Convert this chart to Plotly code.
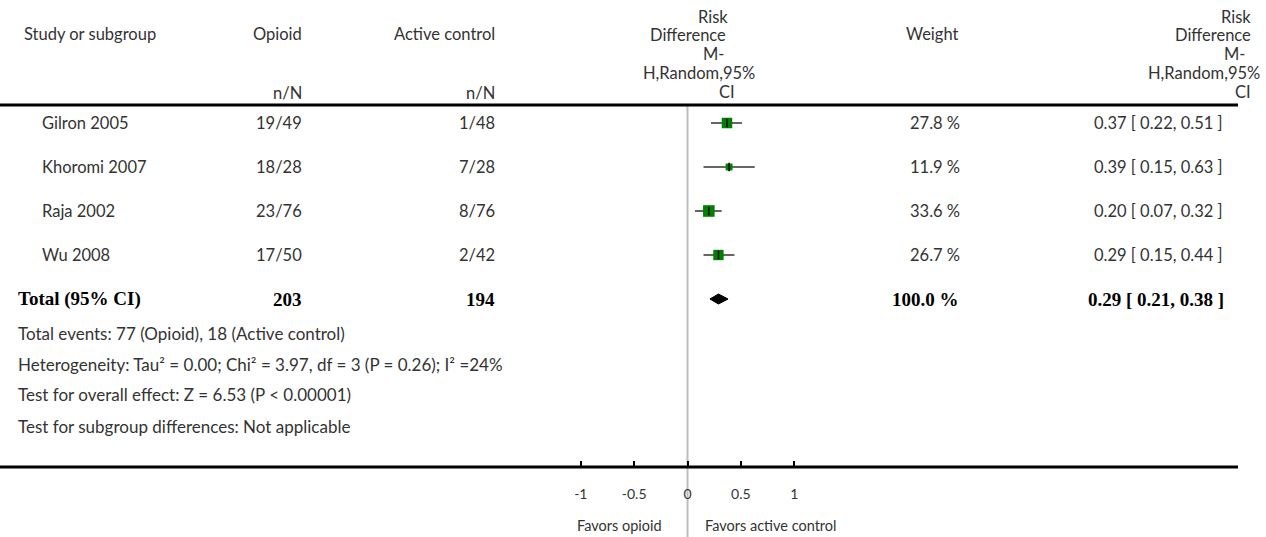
import plotly.graph_objects as go

# ---------------- data ----------------
studies = ["Gilron 2005", "Khoromi 2007", "Raja 2002", "Wu 2008"]
opioid_nN = ["19/49", "18/28", "23/76", "17/50"]
control_nN = ["1/48", "7/28", "8/76", "2/42"]
rd = [0.37, 0.39, 0.20, 0.29]
ci_low = [0.22, 0.15, 0.07, 0.15]
ci_high = [0.51, 0.63, 0.32, 0.44]
weights = [27.8, 11.9, 33.6, 26.7]
weight_labels = ["27.8 %", "11.9 %", "33.6 %", "26.7 %"]
ci_labels = ["0.37 [ 0.22, 0.51 ]", "0.39 [ 0.15, 0.63 ]",
             "0.20 [ 0.07, 0.32 ]", "0.29 [ 0.15, 0.44 ]"]

total_label = "Total (95% CI)"
total_opioid_N = "203"
total_control_N = "194"
total_rd = 0.29
total_low = 0.21
total_high = 0.38
total_weight_label = "100.0 %"
total_ci_label = "0.29 [ 0.21, 0.38 ]"

footer_lines = [
    "Total events: 77 (Opioid), 18 (Active control)",
    "Heterogeneity: Tau² = 0.00; Chi² = 3.97, df = 3 (P = 0.26); I² =24%",
    "Test for overall effect: Z = 6.53 (P < 0.00001)",
    "Test for subgroup differences: Not applicable",
]
tick_vals = [-1, -0.5, 0, 0.5, 1]
tick_text = ["-1", "-0.5", "0", "0.5", "1"]
favors_left = "Favors opioid"
favors_right = "Favors active control"

# ---------------- layout geometry ----------------
W, H = 1266, 537
ZERO_PX = 687.5
UNIT_PX = 106.7
ROW0_PX = 123
ROW_STEP = 44

FONT = "Lato"
TXT = "#333333"
FS = 16.5


def py(p):
    return 1 - p / H


def px(p):
    return p / W


rows = list(range(len(studies)))
total_row = len(studies)

fig = go.Figure()

# CI lines
ci_x, ci_y = [], []
for i in rows:
    ci_x += [ci_low[i], ci_high[i], None]
    ci_y += [i, i, None]
fig.add_trace(go.Scatter(
    x=ci_x, y=ci_y, mode="lines", line=dict(color="#666666", width=2),
    hoverinfo="skip", showlegend=False))

# squares
fig.add_trace(go.Scatter(
    x=rd, y=rows, mode="markers",
    marker=dict(symbol="square", color="#008000", opacity=1,
                size=[2.0 * w ** 0.5 for w in weights], line=dict(width=0)),
    hoverinfo="skip", showlegend=False))
# centre ticks
fig.add_trace(go.Scatter(
    x=rd, y=rows, mode="markers",
    marker=dict(symbol="line-ns-open", size=6, color="black",
                line=dict(width=1.5, color="black")),
    hoverinfo="skip", showlegend=False))

# total diamond
hh = 5 / ROW_STEP
fig.add_trace(go.Scatter(
    x=[total_low, total_rd, total_high, total_rd, total_low],
    y=[total_row, total_row - hh, total_row, total_row + hh, total_row],
    mode="lines", fill="toself", fillcolor="black",
    line=dict(color="black", width=1), hoverinfo="skip", showlegend=False))

# ---------------- shapes ----------------
shapes = [
    dict(type="line", xref="paper", yref="paper", x0=0, x1=px(1238),
         y0=py(105), y1=py(105), line=dict(color="black", width=3)),
    dict(type="line", xref="paper", yref="paper", x0=0, x1=px(1238),
         y0=py(467), y1=py(467), line=dict(color="black", width=3)),
    dict(type="line", xref="x", yref="paper", x0=0, x1=0,
         y0=py(106), y1=0, line=dict(color="#bdbdbd", width=2), layer="below"),
]

# ---------------- annotations ----------------
ann = []


def add(text, x, y, anchor="left", size=FS, family=FONT, color=TXT, yref="paper"):
    ann.append(dict(text=text, x=px(x), y=(py(y) if yref == "paper" else y),
                    xref="paper", yref=yref, xanchor=anchor, yanchor="middle",
                    showarrow=False, font=dict(family=family, size=size, color=color)))


# headers
add("Study or subgroup", 22, 34)
add("Opioid", 304, 34, "right")
add("Active control", 497, 34, "right")
add("Weight", 960, 34, "right")
add("n/N", 304, 93, "right")
add("n/N", 497, 93, "right")
mid_hdr = [("Risk", 730, 17), ("Difference", 728, 35), ("M-", 726, 54),
           ("H,Random,95%", 757, 73), ("CI", 737, 92)]
for t, x, y in mid_hdr:
    add(t, x, y, "right")
right_hdr = [("Risk", 1253, 17), ("Difference", 1253, 35), ("M-", 1247, 54),
             ("H,Random,95%", 1262, 73), ("CI", 1253, 92)]
for t, x, y in right_hdr:
    add(t, x, y, "right")

# study rows
for i in rows:
    add(studies[i], 40, i, "left", yref="y")
    add(opioid_nN[i], 304, i, "right", yref="y")
    add(control_nN[i], 497, i, "right", yref="y")
    add(weight_labels[i], 962, i, "right", yref="y")
    add(ci_labels[i], 1225, i, "right", yref="y")

# total row
BF = "Liberation Serif"
add("<b>" + total_label + "</b>", 16, total_row, "left", 19, BF, "black", yref="y")
add("<b>" + total_opioid_N + "</b>", 304, total_row, "right", 19, BF, "black", yref="y")
add("<b>" + total_control_N + "</b>", 497, total_row, "right", 19, BF, "black", yref="y")
add("<b>" + total_weight_label + "</b>", 961, total_row, "right", 19, BF, "black", yref="y")
add("<b>" + total_ci_label + "</b>", 1226, total_row, "right", 19, BF, "black", yref="y")

for k, line in enumerate(footer_lines):
    add(line, 16, 333 + 31 * k, size=17)

add(favors_left, 619, 525, "center", 14.5)
add(favors_right, 771, 525, "center", 14.5)

fig.update_layout(
    width=W, height=H,
    margin=dict(l=0, r=0, t=0, b=0),
    paper_bgcolor="white", plot_bgcolor="white",
    showlegend=False,
    shapes=shapes, annotations=ann,
    xaxis=dict(domain=[0, 1],
               range=[-ZERO_PX / UNIT_PX, (W - ZERO_PX) / UNIT_PX],
               anchor="free", position=py(467),
               showgrid=False, zeroline=False, showline=False,
               ticks="inside", ticklen=6, tickwidth=2, tickcolor="black",
               tickvals=tick_vals, ticktext=tick_text,
               tickfont=dict(family=FONT, size=14, color=TXT),
               ticklabelstandoff=17, fixedrange=True),
    yaxis=dict(domain=[0, 1],
               range=[(H - ROW0_PX) / ROW_STEP, -ROW0_PX / ROW_STEP],
               visible=False, showgrid=False, zeroline=False, fixedrange=True),
)

fig.write_html("out.html")
